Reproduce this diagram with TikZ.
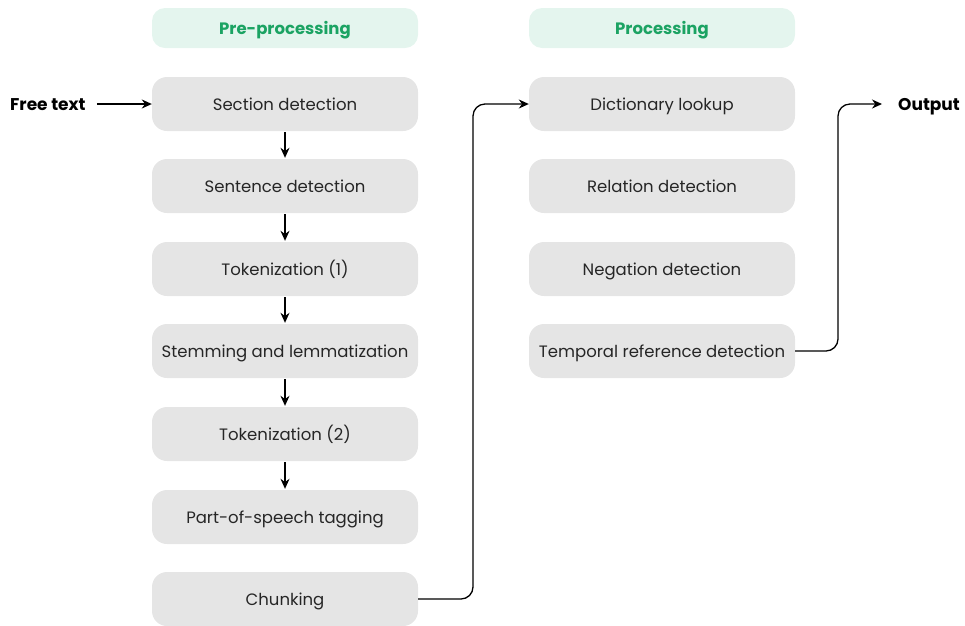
\documentclass[tikz,border=0pt]{standalone}
\usepackage{fontspec}
\setmainfont{Poppins}
\usetikzlibrary{arrows.meta}
\definecolor{boxgray}{HTML}{E5E5E5}
\definecolor{headfill}{HTML}{E4F5EE}
\definecolor{headtext}{HTML}{1BA363}
\begin{document}
\begin{tikzpicture}[x=1pt,y=-1pt,
  stepbox/.style={fill=boxgray, rounded corners=15pt, minimum width=266pt, minimum height=54pt, inner sep=0pt, text height=13pt, text depth=0pt, font=\fontsize{16.5}{18}\selectfont, text=black!85},
  headbox/.style={fill=headfill, rounded corners=13pt, minimum width=266pt, minimum height=40pt, inner sep=0pt, text height=13pt, text depth=0pt, font=\fontsize{16.5}{18}\selectfont\bfseries, text=headtext},
  endlabel/.style={font=\fontsize{17}{19}\selectfont\bfseries, inner sep=0pt, text height=13pt, text depth=0pt},
  flow/.style={-{Stealth[length=10pt,width=9pt]}, line width=1.3pt},
  link/.style={flow, rounded corners=12pt}]
\useasboundingbox (0,0) rectangle (965,625);
% column headers
\node[headbox] (hpre) at (285,28) {Pre-processing};
\node[headbox] (hpro) at (662,28) {Processing};
% pre-processing steps
\node[stepbox] (s1) at (285,104) {Section detection};
\node[stepbox] (s2) at (285,186) {Sentence detection};
\node[stepbox] (s3) at (285,269) {Tokenization (1)};
\node[stepbox] (s4) at (285,351) {Stemming and lemmatization};
\node[stepbox] (s5) at (285,434) {Tokenization (2)};
\node[stepbox] (s6) at (285,517) {Part-of-speech tagging};
\node[stepbox] (s7) at (285,599) {Chunking};
% processing steps
\node[stepbox] (p1) at (662,104) {Dictionary lookup};
\node[stepbox] (p2) at (662,186) {Relation detection};
\node[stepbox] (p3) at (662,269) {Negation detection};
\node[stepbox] (p4) at (662,351) {Temporal reference detection};
% input and output
\node[endlabel, anchor=west] (in) at (10,104) {Free text};
\node[endlabel, anchor=west] (out) at (898,104) {Output};
% connectors
\draw[flow] ([xshift=-55pt]s1.west) -- (s1.west);
\foreach \a/\b in {s1/s2, s2/s3, s3/s4, s4/s5, s5/s6}
  \draw[flow] ([yshift=-1pt]\a.south) -- ([yshift=1pt]\b.north);
\draw[link] (s7.east) -| (473,104) -- (p1.west);
\draw[link] (p4.east) -| (838,104) -- ([xshift=-16pt]out.west);
\end{tikzpicture}
\end{document}
